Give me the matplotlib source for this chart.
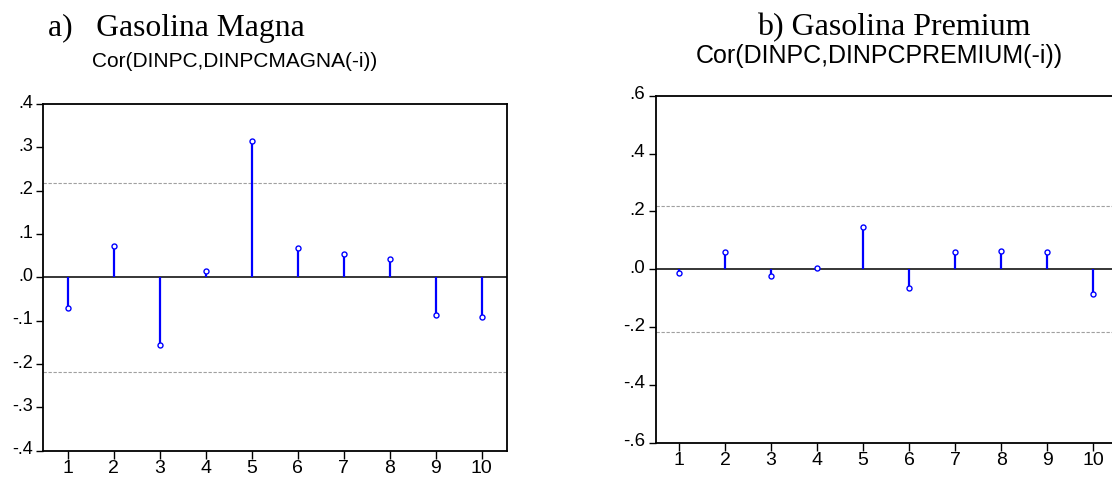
"""Cross-correlograms of DINPC against lagged gasoline price changes."""
import numpy as np
import matplotlib
matplotlib.use("Agg")
import matplotlib.pyplot as plt
from matplotlib.ticker import FuncFormatter
from matplotlib.transforms import ScaledTranslation

lags = np.arange(1, 11)
cor_magna = [-0.071, 0.072, -0.155, 0.014, 0.315, 0.067, 0.055, 0.042, -0.087, -0.092]
cor_premium = [-0.012, 0.060, -0.023, 0.005, 0.146, -0.066, 0.059, 0.063, 0.059, -0.085]
band = 0.218  # approx. 2/sqrt(n)

W, H = 1112, 483
plt.rcParams.update({"font.family": "Liberation Sans"})


def dot_fmt(v, _pos):
    v = round(v, 3)
    if v == 0:
        return ".0"
    return f"{v:.1f}".replace("0.", ".", 1)


def correlogram(ax, vals, lim, ytick_step, ysize):
    ax.vlines(lags, 0, vals, color="#0000ff", lw=1.6, zorder=3)
    ax.plot(lags, vals, "o", ms=3.6, mfc="white", mec="#0000ff", mew=1.0, zorder=4)
    ax.axhline(0, color="black", lw=1.1, zorder=2)
    for b in (band, -band):
        ax.axhline(b, color="#a0a0a0", lw=0.8, ls=(0, (3, 1.5)), zorder=1)
    ax.set_ylim(-lim, lim)
    ax.set_yticks(np.round(np.arange(-lim, lim + 1e-9, ytick_step), 3))
    ax.yaxis.set_major_formatter(FuncFormatter(dot_fmt))
    ax.set_xticks(lags)
    ax.tick_params(axis="y", direction="out", length=5, width=1.0, pad=2.5,
                   labelsize=ysize)
    ax.tick_params(axis="x", direction="out", length=5.5, width=1.0, pad=1,
                   labelsize=14)
    for sp in ax.spines.values():
        sp.set_linewidth(1.3)
    # labels sit slightly above their ticks
    shift = ScaledTranslation(0, 3 / 100, ax.figure.dpi_scale_trans)
    for lab in ax.get_yticklabels():
        lab.set_transform(lab.get_transform() + shift)


fig = plt.figure(figsize=(W / 100, H / 100), dpi=100)
fig.patch.set_facecolor("white")

ax1 = fig.add_axes([43.3 / W, 1 - 450.7 / H, 463.4 / W, 346.7 / H])
ax1.set_xlim(0.47, 10.54)
correlogram(ax1, cor_magna, 0.4, 0.1, 13)

ax2 = fig.add_axes([655.7 / W, 1 - 442.7 / H, 462.5 / W, 347 / H])
ax2.set_xlim(0.494, 10.54)
correlogram(ax2, cor_premium, 0.6, 0.2, 13.5)

fig.text(48 / W, 1 - 35.7 / H, "a)   Gasolina Magna", family="Liberation Serif",
         fontsize=22.8, ha="left", va="baseline")
fig.text(92 / W, 1 - 67 / H, "Cor(DINPC,DINPCMAGNA(-i))", fontsize=15,
         ha="left", va="baseline")
fig.text(757 / W, 1 - 35 / H, "b) Gasolina Premium", family="Liberation Serif",
         fontsize=23, ha="left", va="baseline")
fig.text(695.6 / W, 1 - 63 / H, "Cor(DINPC,DINPCPREMIUM(-i))", fontsize=18,
         ha="left", va="baseline")

fig.savefig("out.png", dpi=100)
